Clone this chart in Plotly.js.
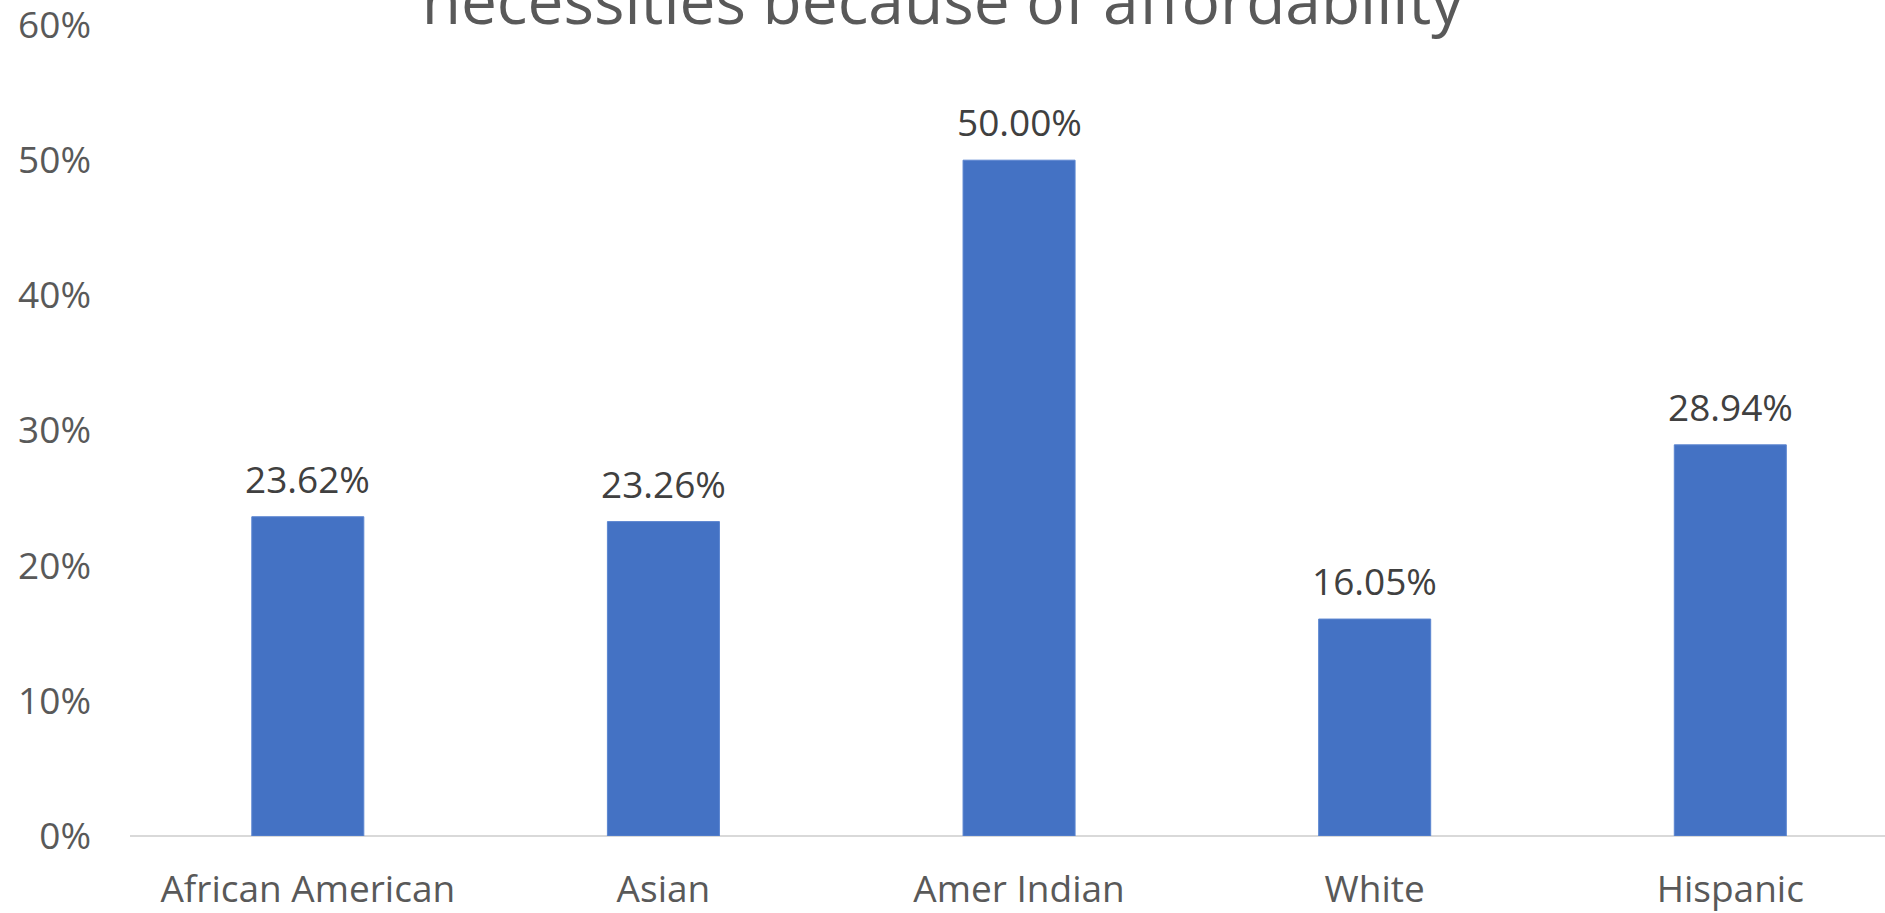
<!DOCTYPE html>
<html>
<head>
<meta charset="utf-8">
<script src="https://cdn.plot.ly/plotly-3.0.1.min.js"></script>
<style>
  html, body { margin: 0; padding: 0; background: #ffffff; }
  #chart { width: 1885px; height: 913px; }
</style>
</head>
<body>
<div id="chart"></div>
<script>
const categories = ["African American", "Asian", "Amer Indian", "White", "Hispanic"];
const values = [23.62, 23.26, 50.00, 16.05, 28.94];
const yTickValues = [0, 10, 20, 30, 40, 50, 60];
const yTickLabels = ["0%", "10%", "20%", "30%", "40%", "50%", "60%"];
const titleText = "necessities because of affordability";

const FONT = "Open Sans, sans-serif";

const trace = {
  type: "bar",
  x: categories,
  y: values,
  marker: { color: "#4472C4", line: { color: "#5B85D0", width: 1 } },
  hoverinfo: "x+y"
};

const valueLabels = categories.map((c, i) => ({
  x: c,
  y: values[i],
  xref: "x",
  yref: "y",
  text: values[i].toFixed(2) + "%",
  showarrow: false,
  xanchor: "center",
  yanchor: "bottom",
  yshift: 11,
  font: { family: FONT, size: 37, color: "#404040" }
}));

const layout = {
  width: 1885,
  height: 913,
  paper_bgcolor: "#ffffff",
  plot_bgcolor: "#ffffff",
  margin: { l: 130, r: 0, t: 25, b: 77, pad: 0 },
  bargap: 0.685,
  showlegend: false,
  annotations: valueLabels,
  title: {
    text: titleText,
    font: { family: FONT, size: 64, color: "#595959" },
    x: 0.5,
    xref: "container",
    xanchor: "center",
    y: 1 - 24 / 913,
    yref: "container",
    yanchor: "bottom"
  },
  xaxis: {
    type: "category",
    range: [-0.5, 4.435],
    showgrid: false,
    zeroline: false,
    showline: false,
    ticks: "",
    ticklabelstandoff: 28,
    tickfont: { family: FONT, size: 37, color: "#595959" }
  },
  yaxis: {
    range: [0, 60.001],
    tickvals: yTickValues,
    ticktext: yTickLabels,
    ticklabeloverflow: "allow",
    showgrid: false,
    zeroline: true,
    zerolinecolor: "#D9D9D9",
    zerolinewidth: 2,
    showline: false,
    ticks: "",
    ticklabelstandoff: 38,
    tickfont: { family: FONT, size: 37, color: "#595959" }
  }
};

Plotly.newPlot("chart", [trace], layout, { displayModeBar: false, staticPlot: true });
</script>
</body>
</html>
